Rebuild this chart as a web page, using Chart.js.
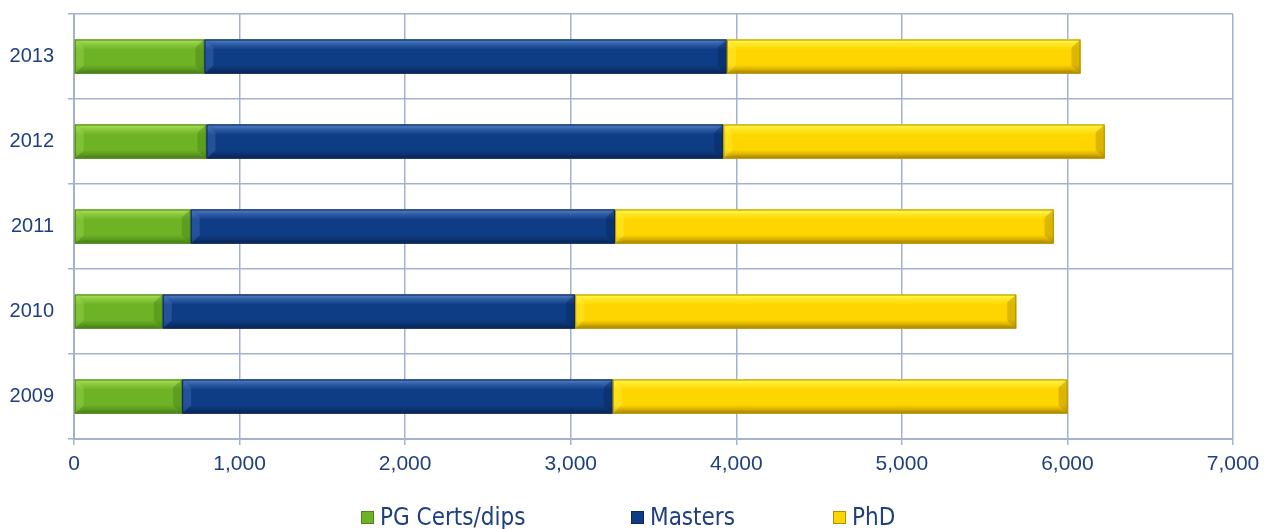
<!DOCTYPE html>
<html>
<head>
<meta charset="utf-8">
<title>Postgraduate enrolments by year</title>
<script src="https://cdn.jsdelivr.net/npm/chart.js@4.4.0/dist/chart.umd.min.js"></script>
<style>
    html, body { margin: 0; padding: 0; background: #fff; }
    #wrap { position: relative; width: 1276px; height: 529px; overflow: hidden; }
    #legend {
        position: absolute; left: 0; top: 502px; width: 1276px; height: 30px;
        font-family: "DejaVu Sans Condensed", "DejaVu Sans", sans-serif;
        font-size: 24px; color: #1F3F7F;
    }
    .item { position: absolute; top: 0; line-height: 30px; white-space: nowrap; }
    .box { display: inline-block; width: 11px; height: 11px; margin-right: 6px; vertical-align: 1px; }
</style>
</head>
<body>
<div id="wrap">
    <canvas id="chart" width="1276" height="529"></canvas>
    <div id="legend"></div>
</div>
<script>
// Data (students per year)
const years = ['2009', '2010', '2011', '2012', '2013'];
const pgCerts = [653, 536, 705, 800, 788];
const masters = [2601, 2491, 2563, 3122, 3155];
const phd = [2747, 2664, 2649, 2303, 2136];
const xTicks = [0, 1000, 2000, 3000, 4000, 5000, 6000, 7000];

const textColor = '#1F3F7F';
const gridColor = '#A3B2CE';

// Colours per series: main, light edge, dark edge
const palette = {
    pg: { main: '#6DB325', light: '#A6DC55', dark: '#4C8419' },
    masters: { main: '#0E3D86', light: '#4C79BE', dark: '#0A2858' },
    phd: { main: '#FFD500', light: '#FFF645', dark: '#B28E00' }
};

// Draws an Excel-like bevel over each bar using the bar elements' own geometry
const bevelPlugin = {
    id: 'bevel',
    afterDatasetsDraw(chart) {
        const ctx = chart.ctx;
        chart.data.datasets.forEach((ds, i) => {
            const meta = chart.getDatasetMeta(i);
            const col = ds.bevel;
            meta.data.forEach(bar => {
                const p = bar.getProps(['x', 'y', 'base', 'height'], true);
                const x0 = Math.min(p.base, p.x), x1 = Math.max(p.base, p.x);
                const y0 = p.y - p.height / 2, y1 = p.y + p.height / 2;
                const ex = 9, ey = 8;
                ctx.save();
                // soft vertical shading in the middle
                const g = ctx.createLinearGradient(0, y0, 0, y1);
                g.addColorStop(0, col.light);
                g.addColorStop(0.3, col.main);
                g.addColorStop(0.75, col.main);
                g.addColorStop(1, col.dark);
                ctx.fillStyle = g;
                ctx.fillRect(x0, y0, x1 - x0, y1 - y0);
                // top edge
                ctx.globalAlpha = 0.55;
                ctx.fillStyle = col.light;
                ctx.beginPath();
                ctx.moveTo(x0, y0); ctx.lineTo(x1, y0);
                ctx.lineTo(x1 - ex, y0 + 3); ctx.lineTo(x0 + ex, y0 + 3);
                ctx.closePath(); ctx.fill();
                // left edge
                ctx.globalAlpha = 0.35;
                ctx.beginPath();
                ctx.moveTo(x0, y0); ctx.lineTo(x0 + ex, y0 + ey);
                ctx.lineTo(x0 + ex, y1 - ey); ctx.lineTo(x0, y1);
                ctx.closePath(); ctx.fill();
                // bottom edge
                ctx.globalAlpha = 0.6;
                ctx.fillStyle = col.dark;
                ctx.beginPath();
                ctx.moveTo(x0, y1); ctx.lineTo(x1, y1);
                ctx.lineTo(x1 - ex, y1 - 3); ctx.lineTo(x0 + ex, y1 - 3);
                ctx.closePath(); ctx.fill();
                // right edge
                ctx.globalAlpha = 0.45;
                ctx.beginPath();
                ctx.moveTo(x1, y0); ctx.lineTo(x1 - ex, y0 + ey);
                ctx.lineTo(x1 - ex, y1 - ey); ctx.lineTo(x1, y1);
                ctx.closePath(); ctx.fill();
                ctx.globalAlpha = 1;
                ctx.strokeStyle = col.dark;
                ctx.lineWidth = 1;
                ctx.strokeRect(x0 + 0.5, y0 + 0.5, x1 - x0 - 1, y1 - y0 - 1);
                ctx.restore();
            });
        });
    }
};

function makeDataset(label, data, col) {
    return {
        label: label,
        data: data,
        backgroundColor: col.main,
        borderWidth: 0,
        bevel: col,
        categoryPercentage: 0.8,
        barPercentage: 0.5
    };
}

const ctx = document.getElementById('chart').getContext('2d');
const chart = new Chart(ctx, {
    type: 'bar',
    data: {
        labels: years,
        datasets: [
            makeDataset('PG Certs/dips', pgCerts, palette.pg),
            makeDataset('Masters', masters, palette.masters),
            makeDataset('PhD', phd, palette.phd)
        ]
    },
    options: {
        indexAxis: 'y',
        responsive: false,
        animation: false,
        layout: { padding: { left: 0, right: 43, top: 14, bottom: 0 } },
        plugins: {
            legend: { display: false },
            tooltip: { enabled: false }
        },
        scales: {
            x: {
                stacked: true,
                min: 0,
                max: 7000,
                afterBuildTicks: scale => { scale.ticks = xTicks.map(v => ({ value: v })); },
                afterFit: scale => { scale.height = 90; },
                grid: { color: gridColor, lineWidth: 1.5, tickLength: 6 },
                border: { color: gridColor, width: 2 },
                ticks: {
                    color: textColor,
                    font: { family: '"Liberation Sans", sans-serif', size: 21 },
                    padding: 7,
                    maxRotation: 0,
                    callback: v => v.toLocaleString('en-US')
                }
            },
            y: {
                stacked: true,
                reverse: true,
                afterFit: scale => {
                    scale.width = 74;
                    // labels sit inside their bands, so no extra room is needed above/below
                    scale.paddingTop = 0;
                    scale.paddingBottom = 0;
                },
                grid: { color: gridColor, lineWidth: 1.5, offset: true, tickLength: 6 },
                border: { color: gridColor, width: 2 },
                ticks: {
                    color: textColor,
                    font: { family: '"Liberation Sans", sans-serif', size: 20 },
                    padding: 14
                }
            }
        }
    },
    plugins: [bevelPlugin]
});

// Legend laid out like the original (wide gaps between items)
const legendEl = document.getElementById('legend');
const legendX = [361, 631, 833];
chart.data.datasets.forEach((ds, i) => {
    const item = document.createElement('div');
    item.className = 'item';
    item.style.left = legendX[i] + 'px';
    item.innerHTML = '<span class="box" style="background:' + ds.bevel.main +
        ';border:1px solid ' + ds.bevel.dark + '"></span>' + ds.label;
    legendEl.appendChild(item);
});
</script>
</body>
</html>
